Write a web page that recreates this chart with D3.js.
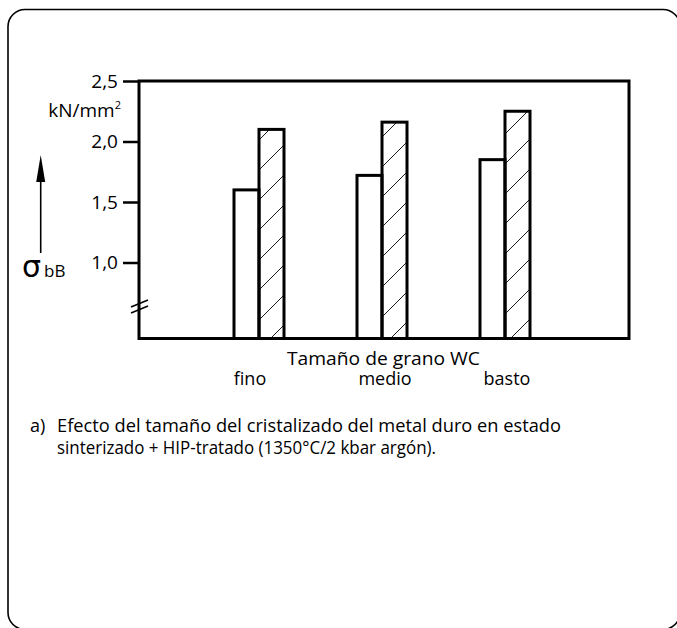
<!DOCTYPE html>
<html>
<head>
<meta charset="utf-8">
<script src="https://cdn.jsdelivr.net/npm/d3@7"></script>
<style>
  html, body { margin: 0; padding: 0; background: #fff; }
  svg { display: block; }
  text { font-family: "Open Sans", "Noto Sans", sans-serif; fill: #000; }
</style>
</head>
<body>
<svg id="chart" width="677" height="628"></svg>
<script>
// ---- data ----
const categories = ["fino", "medio", "basto"];
const series = ["sinterizado", "HIP-tratado"];
const sinterizado = [1.6, 1.72, 1.85];
const hipTratado = [2.1, 2.16, 2.25];
const yTicks = [1.0, 1.5, 2.0, 2.5];
const yTickLabels = ["1,0", "1,5", "2,0", "2,5"];
const xTitle = "Tamaño de grano WC";
const unitLabel = "kN/mm";
const captionLines = [
  "Efecto del tamaño del cristalizado del metal duro en estado",
  "sinterizado + HIP-tratado (1350°C/2 kbar argón)."
];

// ---- style constants ----
const FONT = "'Open Sans', 'Noto Sans', sans-serif";
const labelNudge = [-9, 3, 2];
const svg = d3.select("#chart");
const plot = { left: 139, right: 629, top: 81, bottom: 338.5 };

// outer rounded border
svg.append("rect")
  .attr("x", 8).attr("y", 9.5).attr("width", 672).attr("height", 620)
  .attr("rx", 17).attr("ry", 17)
  .attr("fill", "none").attr("stroke", "#000").attr("stroke-width", 1.6);

// hatch pattern
const defs = svg.append("defs");
const pat = defs.append("pattern")
  .attr("id", "hatch").attr("patternUnits", "userSpaceOnUse")
  .attr("width", 30).attr("height", 30).attr("x", 9).attr("y", 0);
pat.append("path")
  .attr("d", "M0,30 L30,0 M-5,5 L5,-5 M25,35 L35,25")
  .attr("stroke", "#000").attr("stroke-width", 0.9);

// scales
const y = d3.scaleLinear().domain([0.372, 2.5]).range([plot.bottom, plot.top]);
const x = d3.scalePoint().domain(categories).range([259, 505]);
const xSub = d3.scaleBand().domain(series).range([-25, 25]).padding(0);

const rows = categories.map((c, i) => ({ cat: c, vals: [sinterizado[i], hipTratado[i]] }));

// bars
const g = svg.append("g");
rows.forEach(r => {
  series.forEach((s, j) => {
    g.append("rect")
      .attr("x", x(r.cat) + xSub(s))
      .attr("y", y(r.vals[j]))
      .attr("width", xSub.bandwidth())
      .attr("height", y.range()[0] - y(r.vals[j]))
      .attr("fill", j === 0 ? "#fff" : "url(#hatch)")
      .attr("stroke", "#000").attr("stroke-width", 3);
  });
});

// frame
svg.append("rect")
  .attr("x", plot.left).attr("y", plot.top)
  .attr("width", plot.right - plot.left).attr("height", plot.bottom - plot.top)
  .attr("fill", "none").attr("stroke", "#000").attr("stroke-width", 3);

// y axis ticks
const yAxis = d3.axisLeft(y).tickValues(yTicks)
  .tickFormat((d, i) => yTickLabels[i]).tickSize(16).tickPadding(5);
const ya = svg.append("g").attr("transform", `translate(${plot.left},0)`).call(yAxis);
ya.select(".domain").remove();
ya.selectAll(".tick line").attr("stroke", "#000").attr("stroke-width", 2.5);
ya.selectAll(".tick text").attr("font-size", 19).attr("font-family", FONT).attr("fill", "#000");

// axis break marks
const brk = svg.append("g").attr("stroke", "#000").attr("stroke-width", 1.6);
[0, 6].forEach(o => {
  brk.append("line").attr("x1", 131).attr("y1", 307 + o).attr("x2", 148).attr("y2", 300 + o);
});

// unit label
const ul = svg.append("text").attr("x", 121).attr("y", 117).attr("text-anchor", "end").attr("font-size", 19);
ul.append("tspan").text(unitLabel);
ul.append("tspan").attr("dy", -8).attr("font-size", 11).text("2");

// sigma arrow
svg.append("line").attr("x1", 40.7).attr("y1", 178).attr("x2", 40.7).attr("y2", 253)
  .attr("stroke", "#000").attr("stroke-width", 1.6);
svg.append("path").attr("d", "M36.2,182 L40.7,155 L45.2,182 Z").attr("fill", "#000");
const sg = svg.append("text").attr("x", 22).attr("y", 277);
sg.append("tspan").attr("font-size", 30).attr("font-family", "DejaVu Sans, sans-serif").text("σ");
sg.append("tspan").attr("dx", 3).attr("font-size", 17).text("bB");

// x title and category labels
svg.append("text").attr("x", 287).attr("y", 364.5)
  .attr("font-size", 18).attr("textLength", 193).attr("lengthAdjust", "spacingAndGlyphs")
  .text(xTitle);
svg.append("g").selectAll("text").data(categories).join("text")
  .attr("x", (d, i) => x(d) + labelNudge[i]).attr("y", 385).attr("text-anchor", "middle")
  .attr("font-size", 18).text(d => d);

// caption
svg.append("text").attr("x", 30).attr("y", 432).attr("font-size", 18).text("a)");
const capW = [504, 379];
svg.append("g").selectAll("text").data(captionLines).join("text")
  .attr("x", 57).attr("y", (d, i) => 432 + i * 22)
  .attr("font-size", 18)
  .attr("textLength", (d, i) => capW[i]).attr("lengthAdjust", "spacingAndGlyphs")
  .text(d => d);
</script>
</body>
</html>
